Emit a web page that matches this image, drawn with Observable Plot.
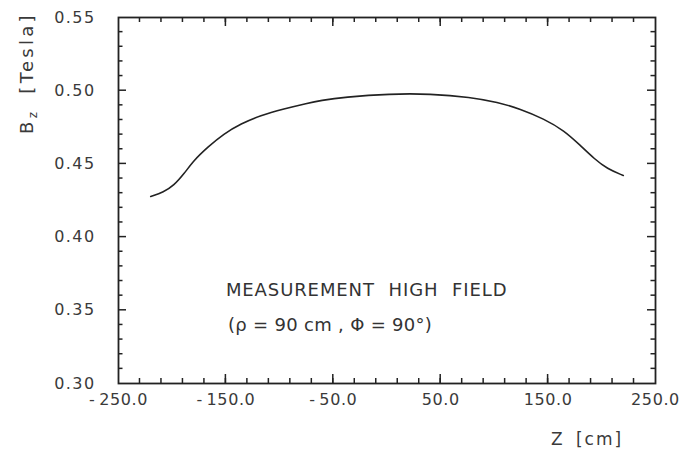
<!DOCTYPE html>
<html>
<head>
<meta charset="utf-8">
<script src="https://cdn.jsdelivr.net/npm/d3@7"></script>
<script src="https://cdn.jsdelivr.net/npm/@observablehq/plot@0.6"></script>
<style>
  html, body { margin: 0; padding: 0; background: #fff; }
  #chart { width: 688px; height: 450px; }
</style>
</head>
<body>
<div id="chart"></div>
<script>
// Measured field along z
const zValues  = [-220, -208, -198.5, -189, -180, -167, -152, -136, -118, -96, -74, -62, -40, 3, 40, 78, 103, 124, 146, 165, 180, 193, 205, 220];
const bzValues = [0.4277, 0.4307, 0.4352, 0.4432, 0.4523, 0.4614, 0.4706, 0.4774, 0.4831, 0.4876, 0.4915, 0.4933, 0.4956, 0.4979, 0.4979, 0.4956, 0.4921, 0.4876, 0.4808, 0.4728, 0.4626, 0.4535, 0.4466, 0.4421];

// Axis ticks
const xLabelTicks = [-250, -150, -50, 50, 150, 250];
const xMajorTicks = [-150, -50, 50, 150];
const xMinorTicks = d3.range(-230, 250, 20);
const yLabelTicks = [0.30, 0.35, 0.40, 0.45, 0.50, 0.55];
const yMajorTicks = [0.35, 0.40, 0.45, 0.50];
const yMinorTicks = d3.range(31, 55).filter(d => d % 5 !== 0).map(d => d / 100);

// Annotation
const noteLines = ["MEASUREMENT HIGH FIELD", "(ρ = 90 cm , Φ = 90°)"];
const noteX = [-150, -148];
const noteY = [0.3635, 0.3395];

const notes = noteLines.map((t, i) => ({t, x: noteX[i], y: noteY[i]}));
const data = zValues.map((z, i) => ({z, bz: bzValues[i]}));

const ink = "#222";
const textInk = "#3a3a3a";
const font = "DejaVu Sans, sans-serif";

// layout
const W = 688, H = 450, mL = 118, mR = 33, mT = 17, mB = 67;

const plot = Plot.plot({
  width: W,
  height: H,
  marginLeft: mL,
  marginRight: mR,
  marginTop: mT,
  marginBottom: mB,
  style: {background: "#fff", fontFamily: font, color: textInk},
  x: {domain: [-250, 250]},
  y: {domain: [0.30, 0.55]},
  marks: [
    Plot.axisX({ticks: xLabelTicks, tickSize: 0, tickPadding: 10, tickFormat: d => (d < 0 ? "-\u2009" : "") + Math.abs(d).toFixed(1), fontSize: 16, label: null}),
    Plot.axisY({ticks: yLabelTicks, tickSize: 0, tickPadding: 23, tickFormat: d => d.toFixed(2), fontSize: 16, label: null}),
    Plot.frame({stroke: ink, strokeWidth: 1.8}),
    Plot.line(data, {x: "z", y: "bz", curve: "basis", stroke: ink, strokeWidth: 1.6}),
    Plot.text(notes.slice(0, 1), {x: "x", y: "y", text: "t", textAnchor: "start", fontSize: 18, fill: "#333", fontFamily: font}),
    Plot.text(notes.slice(1), {x: "x", y: "y", text: "t", textAnchor: "start", fontSize: 18, fill: "#333", fontFamily: font})
  ]
});

const svg = d3.select(plot);

// inward ticks on all four sides, positioned through Plot's own scales
const sx = plot.scale("x"), sy = plot.scale("y");
const x0 = sx.apply(-250), x1 = sx.apply(250);
const y0 = sy.apply(0.30), y1 = sy.apply(0.55);
const tg = svg.append("g").attr("stroke", ink).attr("stroke-width", 1.5);
const addX = (ticks, len) => ticks.forEach(v => {
  const px = sx.apply(v);
  tg.append("line").attr("x1", px).attr("x2", px).attr("y1", y0).attr("y2", y0 - len);
  tg.append("line").attr("x1", px).attr("x2", px).attr("y1", y1).attr("y2", y1 + len);
});
const addY = (ticks, len) => ticks.forEach(v => {
  const py = sy.apply(v);
  tg.append("line").attr("y1", py).attr("y2", py).attr("x1", x0).attr("x2", x0 + len);
  tg.append("line").attr("y1", py).attr("y2", py).attr("x1", x1).attr("x2", x1 - len);
});
addX(xMajorTicks, 9);
addX(xMinorTicks, 5);
addY(yMajorTicks, 8);
addY(yMinorTicks, 4.5);

// text spacing tweaks
const noteGroups = svg.selectAll('g[aria-label="text"]').nodes();
if (noteGroups[0]) d3.select(noteGroups[0]).style("letter-spacing", "0.9px").style("word-spacing", "7px");
if (noteGroups[1]) d3.select(noteGroups[1]).style("letter-spacing", "0.3px");
svg.selectAll('g[aria-label="x-axis tick label"]').style("letter-spacing", "0.6px");
svg.selectAll('g[aria-label="y-axis tick label"]').style("letter-spacing", "1.4px");

// y-axis title with subscript
const yt = svg.append("text")
  .attr("transform", "translate(33,73) rotate(-90)")
  .attr("text-anchor", "middle")
  .attr("font-family", font)
  .attr("font-size", 18)
  .attr("letter-spacing", "3.3px")
  .attr("word-spacing", "6px")
  .attr("fill", textInk);
yt.append("tspan").text("B");
yt.append("tspan").attr("font-size", 12).attr("dy", 4).text("z");
yt.append("tspan").attr("dy", -4).text(" [Tesla]");
// x-axis title
svg.append("text")
  .attr("x", 587).attr("y", 445)
  .attr("text-anchor", "middle")
  .attr("font-family", font)
  .attr("font-size", 17)
  .attr("letter-spacing", "2px")
  .attr("word-spacing", "4px")
  .attr("fill", textInk)
  .text("Z [cm]");

document.getElementById("chart").appendChild(plot);
</script>
</body>
</html>
